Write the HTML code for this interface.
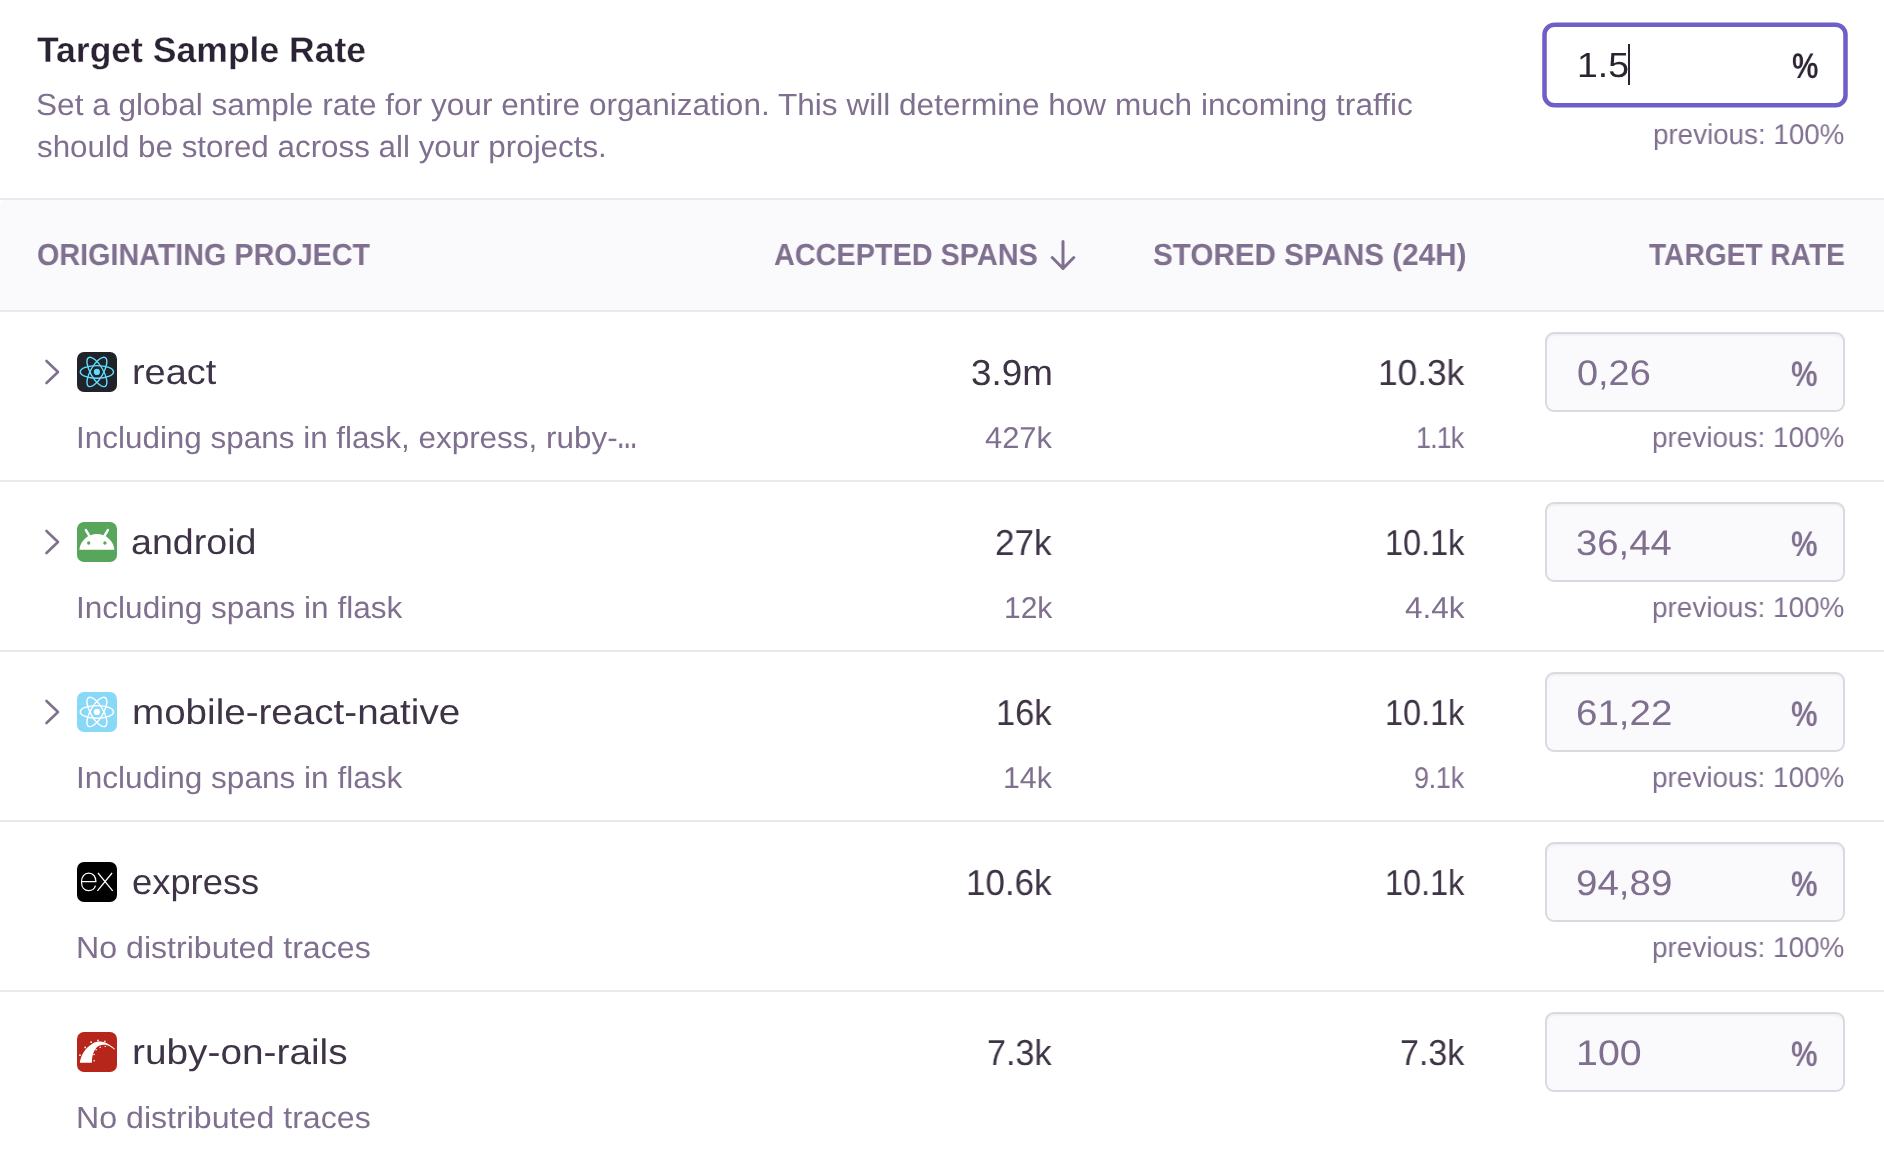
<!DOCTYPE html>
<html lang="en"><head><meta charset="utf-8"><title>Target Sample Rate</title>
<style>
html,body{margin:0;padding:0}
body{width:1884px;height:1160px;position:relative;overflow:hidden;background:#fff;
  font-family:"Liberation Sans",sans-serif;-webkit-font-smoothing:antialiased}
.t{will-change:transform;text-rendering:geometricPrecision;position:absolute;white-space:nowrap;line-height:60px;height:60px;font-weight:400;transform-origin:0 50%}
.t.b{font-weight:700}
#title{-webkit-text-stroke:0.3px #fff}
.hdr{position:absolute;left:0;top:198px;width:1884px;height:110px;background:#fff;
  border-top:2px solid #EBE8EF;border-bottom:2px solid #EBE8EF}
.hdr i{display:block;width:100%;height:100%;background:#FAF9FB;border-top-left-radius:5px}
.sep{position:absolute;left:0;width:1884px;height:2px;background:#EBE8EF}
.inp{position:absolute;left:1545px;width:296px;height:76px;border:2px solid #DCD8E2;border-radius:9px;
  background:#FAF9FB;box-shadow:inset 0 3px 3px -2px rgba(43,34,51,.08)}
.focus{position:absolute;left:1536px;top:16px;width:320px;height:100px}
.caret{position:absolute;left:1628px;top:44px;width:2px;height:41px;background:#2B2233}
.ico{position:absolute;left:77px;width:40px;height:40px;border-radius:7px;overflow:hidden}
.ico svg{display:block;width:40px;height:40px}
.chev{position:absolute;left:41px;width:24px;height:32px}
.arrow{position:absolute;left:1047px;top:236px;width:32px;height:38px}

</style></head>
<body>
<div class="hdr"><i></i></div>
<div class="sep" style="top:480px"></div>
<div class="sep" style="top:650px"></div>
<div class="sep" style="top:820px"></div>
<div class="sep" style="top:990px"></div>

<svg class="focus" viewBox="0 0 320 100"><rect x="8.5" y="8.75" width="301" height="80.5" rx="10" ry="10" fill="#fff" stroke="#6C5FC7" stroke-width="4.5"/></svg>
<div class="caret"></div>
<div class="inp" style="top:332px"></div>
<div class="inp" style="top:502px"></div>
<div class="inp" style="top:672px"></div>
<div class="inp" style="top:842px"></div>
<div class="inp" style="top:1012px"></div>

<svg class="arrow" viewBox="0 0 32 38"><path d="M16 5.5V32.5M5.2 21.5L16 32.5L26.8 21.5" fill="none" stroke="#80708F" stroke-width="3" stroke-linecap="round" stroke-linejoin="round"/></svg>

<svg class="chev" style="top:356px" viewBox="0 0 24 32"><path d="M5.5 5L17 16L5.5 27" fill="none" stroke="#80708F" stroke-width="2.6" stroke-linecap="round" stroke-linejoin="round"/></svg>
<svg class="chev" style="top:526px" viewBox="0 0 24 32"><path d="M5.5 5L17 16L5.5 27" fill="none" stroke="#80708F" stroke-width="2.6" stroke-linecap="round" stroke-linejoin="round"/></svg>
<svg class="chev" style="top:696px" viewBox="0 0 24 32"><path d="M5.5 5L17 16L5.5 27" fill="none" stroke="#80708F" stroke-width="2.6" stroke-linecap="round" stroke-linejoin="round"/></svg>

<div class="ico" style="top:352px;background:#20232A"><svg viewBox="0 0 40 40"><g transform="translate(19.9 19.9)" fill="none" stroke="#61DAFB" stroke-width="1.45">
<ellipse rx="16.6" ry="6.3"/><ellipse rx="16.6" ry="6.3" transform="rotate(60)"/><ellipse rx="16.6" ry="6.3" transform="rotate(120)"/>
<circle r="3.1" fill="#61DAFB" stroke="none"/></g></svg></div>
<div class="ico" style="top:522px;background:#57A65B"><svg viewBox="0 0 40 40">
<path d="M2.4 27.7A17.6 17.6 0 0 1 37.4 27.7Z" fill="#fff"/>
<path d="M8.9 8.1L12.4 13.8M30.9 8.1L27.4 13.8" stroke="#fff" stroke-width="2.5" stroke-linecap="round" fill="none"/>
<circle cx="11.7" cy="21" r="1.65" fill="#57A65B"/><circle cx="27.9" cy="21" r="1.65" fill="#57A65B"/>
</svg></div>
<div class="ico" style="top:692px;background:#88D9F7"><svg viewBox="0 0 40 40"><g transform="translate(19.9 19.9)" fill="none" stroke="#fff" stroke-width="1.45">
<ellipse rx="16.6" ry="6.3"/><ellipse rx="16.6" ry="6.3" transform="rotate(60)"/><ellipse rx="16.6" ry="6.3" transform="rotate(120)"/>
<circle r="3.1" fill="#fff" stroke="none"/></g></svg></div>
<div class="ico" style="top:862px;background:#000"><svg viewBox="0 0 40 40">
<g fill="none" stroke="#fff" stroke-width="1.25">
<path d="M4.6 19.6H18.9C18.9 14.6 16.2 11.2 11.7 11.2C7.3 11.2 4.5 14.6 4.5 19.9C4.5 25.2 7.3 28.6 11.8 28.6C15.2 28.6 17.6 26.7 18.5 23.6"/>
<path d="M21 11L35.7 28.8M35.1 11L20.4 28.8"/>
</g></svg></div>
<div class="ico" style="top:1032px;background:#B7261B"><svg viewBox="0 0 40 40">
<path d="M2.8 30.7C3.4 26.5 5.2 22 7.1 19.5C9 16.8 12.5 13.2 16.4 11C18.5 10 20.5 9.5 21.9 9.5C24 9.5 26 9.8 27.5 10.2C30.5 11.2 34 13.6 37.8 16.7L37.4 17.7C35.5 16.2 34 15.2 33.1 14.6C31 13.4 29 12.8 27.5 12.8C25.5 12.8 24 13.1 22.7 13.6C21 14.3 19.8 15.3 19 16.2C17.8 17.6 17 19.3 16.4 21C15.7 23 15.3 24.8 15.1 26.2C14.9 28 14.9 29.5 14.9 30.7Z" fill="#fff"/>
<g fill="#fff"><circle cx="3" cy="23.2" r="0.85"/><circle cx="8.2" cy="15.4" r="0.85"/><circle cx="14.1" cy="10.2" r="0.85"/><circle cx="21" cy="8.4" r="0.85"/><circle cx="27.9" cy="9.4" r="0.8"/>
<circle cx="17.1" cy="28.8" r="0.8"/><circle cx="17.1" cy="22.5" r="0.8"/><circle cx="19.1" cy="17.8" r="0.8"/><circle cx="23.2" cy="15.2" r="0.75"/><circle cx="28.3" cy="14.4" r="0.7"/></g>
</svg></div>

<div class="t b" id="title" style="left:37px;top:20.0px;font-size:35.5px;color:#2B2233;letter-spacing:0.000px;transform:scaleX(1.0009)">Target Sample Rate</div>
<div class="t" id="d1" style="left:36px;top:75.0px;font-size:30.5px;color:#80708F;letter-spacing:0.000px;transform:scaleX(1.0354)">Set a global sample rate for your entire organization. This will determine how much incoming traffic</div>
<div class="t" id="d2" style="left:37px;top:117.0px;font-size:30.5px;color:#80708F;letter-spacing:0.000px;transform:scaleX(1.0279)">should be stored across all your projects.</div>
<div class="t" id="inp0" style="left:1577px;top:36.0px;font-size:35px;color:#2B2233;letter-spacing:0.000px;transform:scaleX(1.0677)">1.5</div>
<div class="t b" id="pct0" style="left:1792px;top:36.0px;font-size:35.5px;color:#2B2233;letter-spacing:0.000px;transform:scaleX(0.8354)">%</div>
<div class="t" id="prev0" style="left:1653px;top:105.0px;font-size:28.5px;color:#80708F;letter-spacing:0.000px;transform:scaleX(0.9742)">previous: 100%</div>
<div class="t b" id="h1" style="left:37px;top:225.0px;font-size:30.5px;color:#80708F;letter-spacing:0.000px;transform:scaleX(0.9419)">ORIGINATING PROJECT</div>
<div class="t b" id="h2" style="left:774px;top:225.0px;font-size:30.5px;color:#80708F;letter-spacing:0.000px;transform:scaleX(0.9451)">ACCEPTED SPANS</div>
<div class="t b" id="h3" style="left:1153px;top:225.0px;font-size:30.5px;color:#80708F;letter-spacing:0.000px;transform:scaleX(0.9714)">STORED SPANS (24H)</div>
<div class="t b" id="h4" style="left:1649px;top:225.0px;font-size:30.5px;color:#80708F;letter-spacing:0.000px;transform:scaleX(0.9223)">TARGET RATE</div>
<div class="t b" id="s0e" style="left:617px;top:408.0px;font-size:30.5px;color:#80708F;letter-spacing:0.000px;transform:scaleX(0.6671)">…</div>
<div class="t" id="n0" style="left:132px;top:342.0px;font-size:35.5px;color:#3E3446;letter-spacing:0.000px;transform:scaleX(1.0668)">react</div>
<div class="t" id="s0" style="left:76px;top:408.0px;font-size:30.5px;color:#80708F;letter-spacing:0.000px;transform:scaleX(1.0306)">Including spans in flask, express, ruby-</div>
<div class="t" id="a0" style="left:971px;top:343.0px;font-size:36px;color:#3E3446;letter-spacing:0.000px;transform:scaleX(1.0237)">3.9m</div>
<div class="t" id="st0" style="left:1378px;top:343.0px;font-size:36px;color:#3E3446;letter-spacing:0.000px;transform:scaleX(0.9799)">10.3k</div>
<div class="t" id="a20" style="left:985px;top:409.0px;font-size:30px;color:#80708F;letter-spacing:0.000px;transform:scaleX(1.0290)">427k</div>
<div class="t" id="s20" style="left:1416px;top:409.0px;font-size:30px;color:#80708F;letter-spacing:-1.038px;transform:scaleX(0.9000)">1.1k</div>
<div class="t" id="v0" style="left:1577px;top:343.0px;font-size:35.5px;color:#80708F;letter-spacing:0.000px;transform:scaleX(1.0675)">0,26</div>
<div class="t b" id="p0" style="left:1791px;top:344.0px;font-size:35.5px;color:#80708F;letter-spacing:0.000px;transform:scaleX(0.8416)">%</div>
<div class="t" id="pv0" style="left:1652px;top:408.0px;font-size:28.5px;color:#80708F;letter-spacing:0.000px;transform:scaleX(0.9794)">previous: 100%</div>
<div class="t" id="n1" style="left:131px;top:512.0px;font-size:35.5px;color:#3E3446;letter-spacing:0.000px;transform:scaleX(1.0599)">android</div>
<div class="t" id="s1" style="left:76px;top:578.0px;font-size:30.5px;color:#80708F;letter-spacing:0.000px;transform:scaleX(1.0347)">Including spans in flask</div>
<div class="t" id="a1" style="left:995px;top:513.0px;font-size:36px;color:#3E3446;letter-spacing:0.000px;transform:scaleX(0.9750)">27k</div>
<div class="t" id="st1" style="left:1385px;top:513.0px;font-size:36px;color:#3E3446;letter-spacing:0.000px;transform:scaleX(0.9011)">10.1k</div>
<div class="t" id="a21" style="left:1004px;top:579.0px;font-size:30px;color:#80708F;letter-spacing:0.000px;transform:scaleX(0.9901)">12k</div>
<div class="t" id="s21" style="left:1405px;top:579.0px;font-size:30px;color:#80708F;letter-spacing:0.000px;transform:scaleX(1.0514)">4.4k</div>
<div class="t" id="v1" style="left:1576px;top:513.0px;font-size:35.5px;color:#80708F;letter-spacing:0.000px;transform:scaleX(1.0773)">36,44</div>
<div class="t b" id="p1" style="left:1791px;top:514.0px;font-size:35.5px;color:#80708F;letter-spacing:0.000px;transform:scaleX(0.8416)">%</div>
<div class="t" id="pv1" style="left:1652px;top:578.0px;font-size:28.5px;color:#80708F;letter-spacing:0.000px;transform:scaleX(0.9794)">previous: 100%</div>
<div class="t" id="n2" style="left:132px;top:682.0px;font-size:35.5px;color:#3E3446;letter-spacing:0.000px;transform:scaleX(1.0870)">mobile-react-native</div>
<div class="t" id="s2" style="left:76px;top:748.0px;font-size:30.5px;color:#80708F;letter-spacing:0.000px;transform:scaleX(1.0347)">Including spans in flask</div>
<div class="t" id="a2" style="left:996px;top:683.0px;font-size:36px;color:#3E3446;letter-spacing:0.000px;transform:scaleX(0.9579)">16k</div>
<div class="t" id="st2" style="left:1385px;top:683.0px;font-size:36px;color:#3E3446;letter-spacing:0.000px;transform:scaleX(0.9011)">10.1k</div>
<div class="t" id="a22" style="left:1003px;top:749.0px;font-size:30px;color:#80708F;letter-spacing:0.000px;transform:scaleX(1.0097)">14k</div>
<div class="t" id="s22" style="left:1414px;top:749.0px;font-size:30px;color:#80708F;letter-spacing:-0.338px;transform:scaleX(0.9000)">9.1k</div>
<div class="t" id="v2" style="left:1576px;top:683.0px;font-size:35.5px;color:#80708F;letter-spacing:0.000px;transform:scaleX(1.0850)">61,22</div>
<div class="t b" id="p2" style="left:1791px;top:684.0px;font-size:35.5px;color:#80708F;letter-spacing:0.000px;transform:scaleX(0.8416)">%</div>
<div class="t" id="pv2" style="left:1652px;top:748.0px;font-size:28.5px;color:#80708F;letter-spacing:0.000px;transform:scaleX(0.9794)">previous: 100%</div>
<div class="t" id="n3" style="left:132px;top:852.0px;font-size:35.5px;color:#3E3446;letter-spacing:0.000px;transform:scaleX(1.0238)">express</div>
<div class="t" id="s3" style="left:76px;top:918.0px;font-size:30.5px;color:#80708F;letter-spacing:0.000px;transform:scaleX(1.0536)">No distributed traces</div>
<div class="t" id="a3" style="left:966px;top:853.0px;font-size:36px;color:#3E3446;letter-spacing:0.000px;transform:scaleX(0.9723)">10.6k</div>
<div class="t" id="st3" style="left:1385px;top:853.0px;font-size:36px;color:#3E3446;letter-spacing:0.000px;transform:scaleX(0.9011)">10.1k</div>
<div class="t" id="v3" style="left:1576px;top:853.0px;font-size:35.5px;color:#80708F;letter-spacing:0.000px;transform:scaleX(1.0843)">94,89</div>
<div class="t b" id="p3" style="left:1791px;top:854.0px;font-size:35.5px;color:#80708F;letter-spacing:0.000px;transform:scaleX(0.8416)">%</div>
<div class="t" id="pv3" style="left:1652px;top:918.0px;font-size:28.5px;color:#80708F;letter-spacing:0.000px;transform:scaleX(0.9794)">previous: 100%</div>
<div class="t" id="n4" style="left:132px;top:1022.0px;font-size:35.5px;color:#3E3446;letter-spacing:0.000px;transform:scaleX(1.0931)">ruby-on-rails</div>
<div class="t" id="s4" style="left:76px;top:1088.0px;font-size:30.5px;color:#80708F;letter-spacing:0.000px;transform:scaleX(1.0536)">No distributed traces</div>
<div class="t" id="a4" style="left:987px;top:1023.0px;font-size:36px;color:#3E3446;letter-spacing:0.000px;transform:scaleX(0.9491)">7.3k</div>
<div class="t" id="st4" style="left:1400px;top:1023.0px;font-size:36px;color:#3E3446;letter-spacing:0.000px;transform:scaleX(0.9451)">7.3k</div>
<div class="t" id="v4" style="left:1576px;top:1023.0px;font-size:35.5px;color:#80708F;letter-spacing:0.000px;transform:scaleX(1.1086)">100</div>
<div class="t b" id="p4" style="left:1791px;top:1024.0px;font-size:35.5px;color:#80708F;letter-spacing:0.000px;transform:scaleX(0.8416)">%</div>
</body></html>
